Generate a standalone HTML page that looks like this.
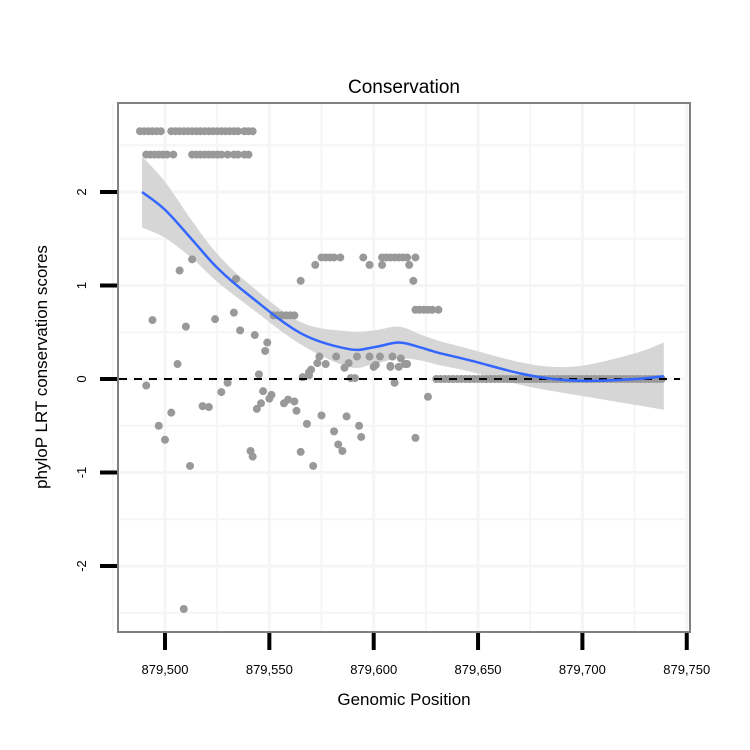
<!DOCTYPE html>
<html><head><meta charset="utf-8"><style>
body{margin:0;background:#fff;}
svg{display:block;font-family:"Liberation Sans",sans-serif;}
</style></head><body>
<svg id="chart" width="750" height="750">
<text x="404" y="93" font-size="19" text-anchor="middle">Conservation</text>
<text x="404" y="705" font-size="17" text-anchor="middle">Genomic Position</text>
<text transform="translate(47,367) rotate(-90)" font-size="17" text-anchor="middle">phyloP LRT conservation scores</text>
<g id="grid"></g>
<g id="band"></g>
<g id="pts"></g>
<g id="ref"></g>
<g id="fit"></g>
<rect x="118" y="103" width="572" height="529" fill="none" stroke="#808080" stroke-width="2"/>
<g id="axes"></g>
</svg>
<script>
const xTicks=[879500,879550,879600,879650,879700,879750];
const xTickLabels=["879,500","879,550","879,600","879,650","879,700","879,750"];
const yTicks=[-2,-1,0,1,2];
const yTickLabels=["-2","-1","0","1","2"];
const ptPos=[879488,879490,879492,879494,879496,879498,879503,879505,879507,879509,879511,879513,879515,879517,879519,879521,879523,879525,879527,879529,879531,879533,879535,879538,879540,879542,
879491,879493,879495,879497,879499,879501,879504,879513,879515,879517,879519,879521,879523,879525,879527,879530,879533,879535,879538,879540,
879575,879577,879579,879581,879584,879595,879604,879606,879608,879610,879612,879614,879616,879620,
879572,879598,879604,879617,879565,879619,879620,879622,879624,879626,879628,879631,
879507,879513,879534,879494,879510,879524,879533,879536,879543,879549,879548,879506,879552,879554,879556,879558,879560,879562,
879574,879582,879592,879598,879603,879609,879613,879616,879573,879577,879570,879569,879586,879588,879600,879608,879612,879589,879610,879626,879566,
879491,879503,879497,879500,879512,879509,879518,879521,879527,879530,879545,879547,879551,879550,879546,879544,879541,879542,879557,879559,879562,879563,879568,879565,879571,879575,879581,879583,879585,879587,879593,879594,879620,879569,879591,879601,879608,879615,
879630,879632,879634,879636,879638,879640,879642,879644,879646,879648,879650,879652,879654,879656,879658,879660,879662,879664,879666,879668,879670,879672,879674,879676,879678,879680,879682,879684,879686,879688,879690,879692,879694,879696,879698,879700,879702,879704,879706,879708,879710,879712,879714,879716,879718,879720,879722,879724,879726,879728,879730,879732,879734,879736,879738];
const ptScore=[2.65,2.65,2.65,2.65,2.65,2.65,2.65,2.65,2.65,2.65,2.65,2.65,2.65,2.65,2.65,2.65,2.65,2.65,2.65,2.65,2.65,2.65,2.65,2.65,2.65,2.65,
2.4,2.4,2.4,2.4,2.4,2.4,2.4,2.4,2.4,2.4,2.4,2.4,2.4,2.4,2.4,2.4,2.4,2.4,2.4,2.4,
1.3,1.3,1.3,1.3,1.3,1.3,1.3,1.3,1.3,1.3,1.3,1.3,1.3,1.3,
1.22,1.22,1.22,1.22,1.05,1.05,0.74,0.74,0.74,0.74,0.74,0.74,
1.16,1.28,1.07,0.63,0.56,0.64,0.71,0.52,0.47,0.39,0.30,0.16,0.68,0.68,0.68,0.68,0.68,0.68,
0.24,0.24,0.24,0.24,0.24,0.24,0.22,0.16,0.17,0.16,0.10,0.04,0.12,0.17,0.13,0.13,0.13,0.01,-0.04,-0.19,0.02,
-0.07,-0.36,-0.50,-0.65,-0.93,-2.46,-0.29,-0.30,-0.14,-0.04,0.05,-0.13,-0.17,-0.21,-0.26,-0.32,-0.77,-0.83,-0.26,-0.22,-0.24,-0.34,-0.48,-0.78,-0.93,-0.39,-0.56,-0.70,-0.77,-0.40,-0.50,-0.62,-0.63,0.07,0.01,0.15,0.14,0.16,
0,0,0,0,0,0,0,0,0,0,0,0,0,0,0,0,0,0,0,0,0,0,0,0,0,0,0,0,0,0,0,0,0,0,0,0,0,0,0,0,0,0,0,0,0,0,0,0,0,0,0,0,0,0,0];
const fitPos=[879489,879500,879513,879525,879540,879565,879588,879600,879612,879622,879631,879646,879670,879686,879702,879726,879739];
const fitVal=[2.0,1.81,1.49,1.19,0.90,0.49,0.32,0.34,0.39,0.34,0.28,0.20,0.06,0.0,-0.02,0.0,0.03];
const fitSe=[0.38,0.30,0.20,0.15,0.12,0.12,0.19,0.18,0.17,0.14,0.13,0.12,0.12,0.13,0.17,0.28,0.36];

const NS="http://www.w3.org/2000/svg";
const X=v=>165+(v-879500)*2.087;
const Y=v=>379-v*93.5;
function mk(tag,attrs,parent){const e=document.createElementNS(NS,tag);for(const k in attrs)e.setAttribute(k,attrs[k]);parent.appendChild(e);return e;}
function smooth(p){let d="M"+p[0][0]+","+p[0][1];for(let i=0;i<p.length-1;i++){const a=p[i-1]||p[i],b=p[i],c=p[i+1],e=p[i+2]||c;d+=" C"+(b[0]+(c[0]-a[0])/6)+","+(b[1]+(c[1]-a[1])/6)+" "+(c[0]-(e[0]-b[0])/6)+","+(c[1]-(e[1]-b[1])/6)+" "+c[0]+","+c[1];}return d;}
const grid=document.getElementById('grid');
for(let v=879475;v<=879750;v+=25){const l=mk('line',{x1:X(v),x2:X(v),y1:104,y2:631,stroke:'#f5f5f5','stroke-width':v%50===0?3:2},grid);

}
for(let v=-2.5;v<=2.5;v+=0.5){const l=mk('line',{x1:119,x2:689,y1:Y(v),y2:Y(v),stroke:'#f5f5f5','stroke-width':Number.isInteger(v)?3:2},grid);

}
const up=fitPos.map((p,i)=>[X(p),Y(fitVal[i]+fitSe[i])]);
const lo=fitPos.map((p,i)=>[X(p),Y(fitVal[i]-fitSe[i])]).reverse();
const bp=smooth(up)+" L"+smooth(lo).slice(1)+" Z";
const band=mk('path',{d:bp,fill:'#d6d6d6'},document.getElementById('band'));


const pts=document.getElementById('pts');
ptPos.forEach((p,i)=>{const c=mk('circle',{cx:X(p),cy:Y(ptScore[i]),r:4,fill:'#999'},pts);

});
const z=mk('line',{x1:119,x2:680,y1:Y(0),y2:Y(0),stroke:'#000','stroke-width':2,'stroke-dasharray':'8,7'},document.getElementById('ref'));


const fl=mk('path',{d:smooth(fitPos.map((p,i)=>[X(p),Y(fitVal[i])])),fill:'none',stroke:'#3366ff','stroke-width':2.5},document.getElementById('fit'));


const ax=document.getElementById('axes');
xTicks.forEach((v,i)=>{const t=mk('line',{x1:X(v),x2:X(v),y1:633,y2:650,stroke:'#000','stroke-width':4},ax);


const tx=mk('text',{x:X(v),y:674,'font-size':13,'text-anchor':'middle'},ax);tx.textContent=xTickLabels[i];

});
yTicks.forEach((v,i)=>{const t=mk('line',{x1:100,x2:117,y1:Y(v),y2:Y(v),stroke:'#000','stroke-width':4},ax);


const tx=mk('text',{transform:`translate(86,${Y(v)}) rotate(-90)`,'font-size':13,'text-anchor':'middle'},ax);tx.textContent=yTickLabels[i];

});
</script>
</body></html>
